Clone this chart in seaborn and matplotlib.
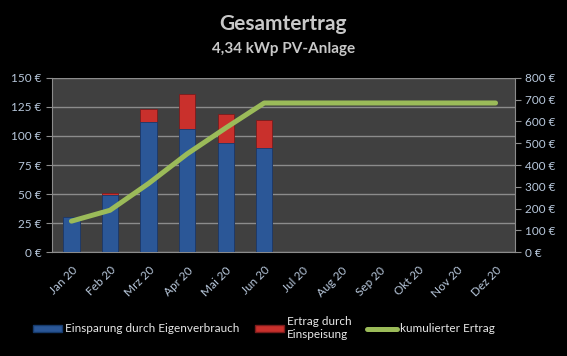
import numpy as np
import pandas as pd
import matplotlib
matplotlib.use("Agg")
import matplotlib.pyplot as plt
import seaborn as sns
from matplotlib.patches import Patch
from matplotlib.lines import Line2D

months = ["Jan 20", "Feb 20", "Mrz 20", "Apr 20", "Mai 20", "Jun 20",
          "Jul 20", "Aug 20", "Sep 20", "Okt 20", "Nov 20", "Dez 20"]
eigenverbrauch = [30, 49, 112, 106, 94, 90, 0, 0, 0, 0, 0, 0]
einspeisung = [0, 1.5, 11, 30, 25, 24, 0, 0, 0, 0, 0, 0]
kumuliert = [142, 192, 315, 451, 570, 685, 685, 685, 685, 685, 685, 685]

left_ticks = [0, 25, 50, 75, 100, 125, 150]
right_ticks = [0, 100, 200, 300, 400, 500, 600, 700, 800]

sns.set_style("dark")
plt.rcParams["font.family"] = ["Lato", "DejaVu Sans"]

blue = "#2b5797"
red = "#c9302c"
green = "#9bbb59"
txt = "#b8c8dc"

df = pd.DataFrame({"Monat": months,
                   "blau": eigenverbrauch,
                   "gesamt": np.array(eigenverbrauch) + np.array(einspeisung)})

fig = plt.figure(figsize=(5.67, 3.56), dpi=100, facecolor="black")
ax = fig.add_axes([0.092, 0.292, 0.816, 0.489])
ax.set_facecolor("#404040")

sns.barplot(data=df, x="Monat", y="gesamt", color=red, width=0.42,
            edgecolor="#7a1c1c", linewidth=0.6, saturation=1, ax=ax, zorder=2)
sns.barplot(data=df, x="Monat", y="blau", color=blue, width=0.42,
            edgecolor="#163a6b", linewidth=0.6, saturation=1, ax=ax, zorder=3)

ax.set_ylim(0, 150)
ax.set_xlim(-0.5, 11.5)
ax.set_yticks(left_ticks)
ax.set_yticklabels([f"{v} €" for v in left_ticks])
ax.yaxis.grid(True, color="#8c8c8c", linewidth=1.0)
ax.xaxis.grid(False)
ax.set_axisbelow(True)
ax.set_xticks(range(12))
ax.set_xticklabels(months, rotation=45, ha="right", rotation_mode="anchor")
ax.set_xticks(np.arange(-0.5, 12, 1), minor=True)
ax.tick_params(axis="x", which="major", length=0, colors=txt, labelsize=8.5, pad=9)
ax.tick_params(axis="x", which="minor", length=4, color="#8c8c8c", direction="out")
ax.tick_params(axis="y", length=4, color="#8c8c8c", colors=txt, labelsize=8.5,
               left=True, direction="out")
ax.set_xlabel("")
ax.set_ylabel("")
for s in ["top", "right"]:
    ax.spines[s].set_visible(False)
for s in ["left", "bottom"]:
    ax.spines[s].set_color("#8c8c8c")

ax2 = ax.twinx()
sns.lineplot(x=np.arange(12), y=kumuliert, color=green, linewidth=3.6, ax=ax2)
ax2.set_ylim(0, 800)
ax2.set_yticks(right_ticks)
ax2.set_yticklabels([f"{v} €" for v in right_ticks])
ax2.tick_params(axis="y", length=4, color="#8c8c8c", colors=txt, labelsize=8.5,
                right=True, direction="out")
ax2.grid(False)
for s in ["top", "left", "bottom"]:
    ax2.spines[s].set_visible(False)
ax2.spines["right"].set_color("#8c8c8c")

fig.text(0.5, 0.932, "Gesamtertrag", ha="center", va="center",
         fontsize=15, fontweight="bold", color="#c8c8c8")
fig.text(0.5, 0.862, "4,34 kWp PV-Anlage", ha="center", va="center",
         fontsize=11, fontweight="bold", color="#c8c8c8")

handles = [Patch(facecolor=blue, edgecolor="#163a6b"),
           Patch(facecolor=red, edgecolor="#7a1c1c"),
           Line2D([0], [0], color=green, linewidth=3.6)]
labels = ["Einsparung durch Eigenverbrauch", "Ertrag durch\nEinspeisung",
          "kumulierter Ertrag"]
leg = fig.legend(handles, labels, loc="center", bbox_to_anchor=(0.465, 0.079),
                 ncol=3, frameon=False, fontsize=8.5, handlelength=2.5,
                 handleheight=0.55, handletextpad=0.25, columnspacing=1.3,
                 labelspacing=0.3)
for t in leg.get_texts():
    t.set_color("#e8e8e8")

fig.savefig("out.png", dpi=100, facecolor="black")
